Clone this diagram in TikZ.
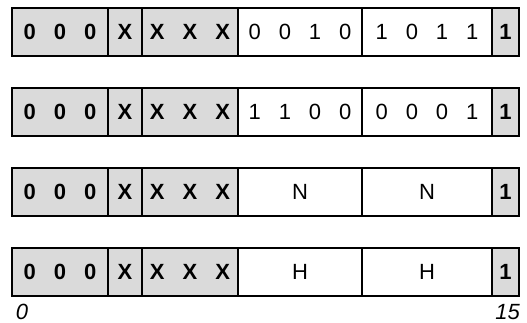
\documentclass[tikz,border=0pt]{standalone}
\usepackage{fontspec}
\setmainfont{Liberation Sans}
\usetikzlibrary{positioning}
\definecolor{stipple}{HTML}{DADADA}
\newcommand{\bitgap}{\hspace{18pt}}
\tikzset{
  field/.style={draw, line width=1.6pt, minimum height=48pt, inner sep=0pt, outer sep=0pt,
    anchor=north west, font=\fontsize{22}{22}\selectfont},
  shaded/.style={field, fill=stipple, font=\fontsize{22}{22}\selectfont\bfseries},
  bitno/.style={font=\fontsize{22}{22}\selectfont\itshape, inner sep=0pt},
}

\begin{document}
\begin{tikzpicture}[x=1pt, y=-1pt]
  \useasboundingbox (0,0) rectangle (527,323);
  % one row per instruction format
  \foreach \row/\fa/\fb in {1/{0\bitgap0\bitgap1\bitgap0}/{1\bitgap0\bitgap1\bitgap1},
                            2/{1\bitgap1\bitgap0\bitgap0}/{0\bitgap0\bitgap0\bitgap1},
                            3/N/N, 4/H/H} {
    \pgfmathsetmacro{\y}{8+(\row-1)*80}
    \node[shaded, minimum width=96pt] (op\row) at (12,\y) {0\bitgap0\bitgap0};
    \node[shaded, minimum width=34pt, anchor=west, right=0pt of op\row] (xa\row) {X};
    \node[shaded, minimum width=96pt, anchor=west, right=0pt of xa\row] (xb\row) {X\bitgap X\bitgap X};
    \node[field, minimum width=124pt, anchor=west, right=0pt of xb\row] (fa\row) {\fa};
    \node[field, minimum width=130pt, anchor=west, right=0pt of fa\row] (fb\row) {\fb};
    \node[shaded, minimum width=27pt, anchor=west, right=0pt of fb\row] (lb\row) {1};
  }
  % bit numbers
  \node[bitno] (lo) at (22,312) {0};
  \node[bitno, anchor=east] (hi) at (520,312) {15};
\end{tikzpicture}
\end{document}
